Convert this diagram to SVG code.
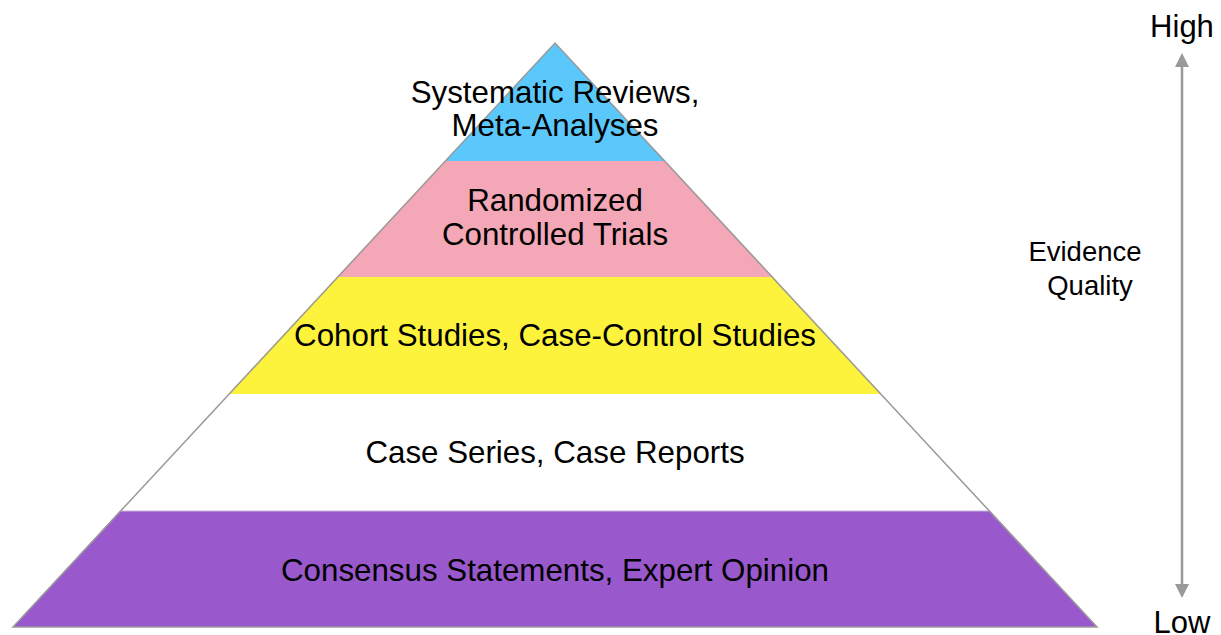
<svg xmlns="http://www.w3.org/2000/svg" width="1221" height="635" viewBox="0 0 1221 635">
<style>
text{font-family:"Liberation Sans",Arial,sans-serif;fill:#000;}
.t{font-size:31.3px;text-anchor:middle;}
.axis{font-size:31px;text-anchor:middle;}
.side{font-size:27.5px;text-anchor:middle;}
</style>
<defs>
<marker id="ah" viewBox="0 0 10 10" refX="5" refY="5" markerWidth="14" markerHeight="14" markerUnits="userSpaceOnUse" orient="auto-start-reverse">
<path d="M0,0 L10,5 L0,10 z" fill="#999"/>
</marker>
</defs>
<rect width="1221" height="635" fill="#fff"/>
<g id="layer1"><polygon points="555,43 665.5,161 444.5,161" fill="#5AC8FA"/></g>
<g id="layer2"><polygon points="444.5,161 665.5,161 773.1,277 336.9,277" fill="#F4A7B6"/></g>
<g id="layer3"><polygon points="336.9,277 773.1,277 881.7,394 228.3,394" fill="#FEF33C"/></g>
<g id="layer4"><polygon points="228.3,394 881.7,394 990.2,511 119.8,511" fill="#FFFFFF"/></g>
<g id="layer5"><polygon points="119.8,511 990.2,511 1097,627 13,627" fill="#9A58CD"/><line x1="119.8" y1="511" x2="990.2" y2="511" stroke="#c9b3dd" stroke-width="1"/></g>
<g id="outline"><polygon points="555,43 1097,627 13,627" fill="none" stroke="#9a9a9a" stroke-width="1.5"/></g>
<g id="labels">
<text class="t" x="555" y="103">Systematic Reviews,</text>
<text class="t" x="555" y="136">Meta-Analyses</text>
<text class="t" x="555" y="211">Randomized</text>
<text class="t" x="555" y="245">Controlled Trials</text>
<text class="t" x="555" y="346">Cohort Studies, Case-Control Studies</text>
<text class="t" x="555" y="463">Case Series, Case Reports</text>
<text class="t" x="555" y="581">Consensus Statements, Expert Opinion</text>
</g>
<g id="connectors">
<line x1="1182" y1="60" x2="1182" y2="591" stroke="#999" stroke-width="2.5" marker-start="url(#ah)" marker-end="url(#ah)"/>
</g>
<g id="axis">
<text class="axis" x="1182" y="37">High</text>
<text class="axis" x="1182" y="633">Low</text>
<text class="side" x="1085" y="261">Evidence</text>
<text class="side" x="1090" y="295">Quality</text>
</g>
</svg>
